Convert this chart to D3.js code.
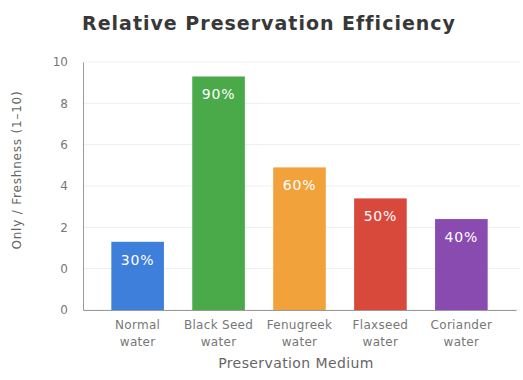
<!DOCTYPE html>
<html>
<head>
<meta charset="utf-8">
<script src="https://cdn.jsdelivr.net/npm/d3@7"></script>
<style>
  body { margin: 0; background: #fff; }
  text { font-family: "DejaVu Sans", Verdana, sans-serif; }
</style>
</head>
<body>
<div id="chart"></div>
<script>
// Daten
const mediums = ["Normal water", "Black Seed water", "Fenugreek water", "Flaxseed water", "Coriander water"];
const scores = [1.3, 9.3, 4.9, 3.4, 2.4];
const percentLabels = ["30%", "90%", "60%", "50%", "40%"];
const barColors = ["#3f7fdc", "#4aaa4a", "#f2a23a", "#d9493b", "#8a4bb0"];
const tickValues = [-2, 0, 2, 4, 6, 8, 10];
const tickLabels = ["0", "0", "2", "4", "6", "8", "10"];

const W = 523, H = 380;
const margin = { top: 62, right: 7, bottom: 70, left: 83 };

const svg = d3.select("#chart").append("svg")
    .attr("width", W)
    .attr("height", H);

const x = d3.scaleBand()
    .domain(mediums)
    .range([margin.left, W - margin.right])
    .paddingInner(0.35)
    .paddingOuter(0.35);

const y = d3.scaleLinear()
    .domain([-2, 10])
    .range([H - margin.bottom, margin.top]);

// Gitterlinien
svg.append("g")
    .selectAll("line")
    .data(tickValues)
    .enter()
    .append("line")
    .attr("x1", margin.left)
    .attr("x2", W - 3)
    .attr("y1", d => y(d))
    .attr("y2", d => y(d))
    .attr("stroke", "#eeeeee");

// Y-Achse
const yAxis = svg.append("g")
    .attr("transform", `translate(${margin.left},0)`)
    .call(d3.axisLeft(y).tickValues(tickValues).tickFormat((d, i) => tickLabels[i]).tickSize(0).tickPadding(15));
yAxis.select(".domain").attr("stroke", "#999");
yAxis.selectAll("text").attr("fill", "#777").style("font-size", "12px")
    .style("font-family", "DejaVu Sans");

// Balken
svg.selectAll("rect.bar")
    .data(mediums)
    .enter()
    .append("rect")
    .attr("class", "bar")
    .attr("x", d => x(d))
    .attr("width", x.bandwidth())
    .attr("y", (d, i) => y(scores[i]))
    .attr("height", (d, i) => y(-2) - y(scores[i]))
    .attr("fill", (d, i) => barColors[i]);

// Prozent-Beschriftungen
svg.selectAll("text.pct")
    .data(mediums)
    .enter()
    .append("text")
    .attr("class", "pct")
    .attr("x", d => x(d) + x.bandwidth() / 2)
    .attr("y", (d, i) => y(scores[i]) + 23)
    .attr("text-anchor", "middle")
    .attr("fill", "#ffffff")
    .style("font-size", "14px")
    .style("letter-spacing", "0.8px")
    .text((d, i) => percentLabels[i]);

// X-Achse
const xAxis = svg.append("g")
    .attr("transform", `translate(0,${H - margin.bottom})`)
    .call(d3.axisBottom(x).tickSize(0).tickFormat(""));
xAxis.select(".domain").attr("stroke", "#999");

// zweizeilige Kategorien
const catLabels = svg.append("g").selectAll("text")
    .data(mediums)
    .enter()
    .append("text")
    .attr("x", d => x(d) + x.bandwidth() / 2)
    .attr("y", H - margin.bottom + 19)
    .attr("text-anchor", "middle")
    .attr("fill", "#777")
    .style("font-size", "12px")
    .style("letter-spacing", "0.3px");
catLabels.each(function (d) {
    const words = d.split(" ");
    const last = words.pop();
    const t = d3.select(this);
    t.append("tspan").attr("x", t.attr("x")).text(words.join(" "));
    t.append("tspan").attr("x", t.attr("x")).attr("dy", 17).text(last);
});

// Achsentitel
svg.append("text")
    .attr("x", 296)
    .attr("y", H - 12)
    .attr("text-anchor", "middle")
    .attr("fill", "#666")
    .style("font-size", "14px")
    .style("letter-spacing", "0.4px")
    .text("Preservation Medium");

svg.append("text")
    .attr("transform", `translate(21,170) rotate(-90)`)
    .attr("text-anchor", "middle")
    .attr("fill", "#666")
    .style("font-size", "12px")
    .style("letter-spacing", "0.8px")
    .text("Only / Freshness (1–10)");

// Überschrift
svg.append("text")
    .attr("x", 269)
    .attr("y", 30)
    .attr("text-anchor", "middle")
    .attr("fill", "#383838")
    .style("font-size", "19px")
    .style("font-weight", "bold")
    .style("letter-spacing", "1px")
    .text("Relative Preservation Efficiency");
</script>
</body>
</html>
